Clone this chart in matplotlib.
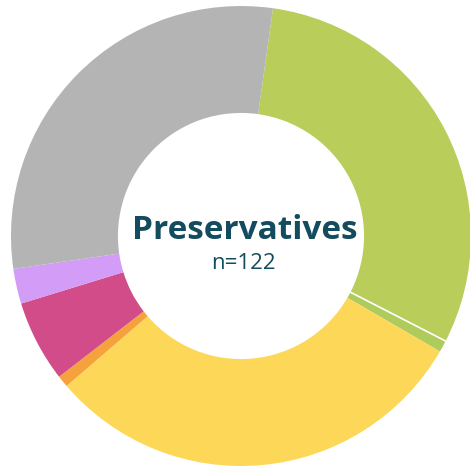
import matplotlib.pyplot as plt
import numpy as np

# slice counts, clockwise from the top (n=122)
labels = ['Green', 'Green (other)', 'Yellow', 'Orange', 'Magenta', 'Purple', 'Gray']
counts = [37, 1, 37, 1, 7, 3, 36]
colors = ['#b9cd5b', '#aecb5c', '#fcd758', '#f5a23d', '#d24c8a', '#d29cf7', '#b4b4b4']
title = 'Preservatives'
n_label = 'n=122'

fig = plt.figure(figsize=(4.7, 4.73), dpi=100)
ax = fig.add_axes([0, 0, 1, 1])

start = 82
ax.pie(counts, colors=colors, startangle=start, counterclock=False,
       radius=1.0, wedgeprops=dict(width=0.465, linewidth=0))

# thin white divider between the two green slices
total = sum(counts)
theta = np.deg2rad(start - 360 * counts[0] / total)
r = np.array([0.535, 1.0])
ax.plot(r * np.cos(theta), r * np.sin(theta), color='white', lw=1.2)

ax.text(0.017, -0.013, title, ha='center', va='baseline', fontsize=24,
        fontweight='bold', color='#124c5e', family='Open Sans')
ax.text(0.011, -0.143, n_label, ha='center', va='baseline', fontsize=16,
        color='#124c5e', family='Open Sans')

ax.set_xlim(-1.0478, 0.9957)
ax.set_ylim(-1.0304, 1.0261)
ax.set_aspect('auto')
ax.axis('off')

fig.savefig('out.png', dpi=100)
